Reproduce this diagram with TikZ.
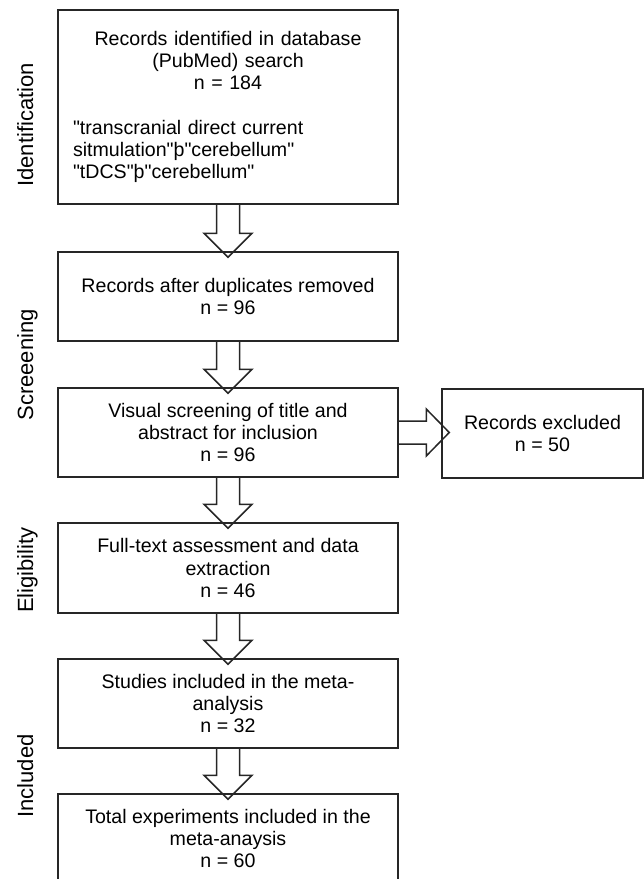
\documentclass[tikz,border=0pt]{standalone}
\usepackage{fontspec}
\setmainfont{Liberation Sans}[Ligatures=TeXOff]
\usepackage{tikz}
\usetikzlibrary{calc}
\tikzset{
    line color/.style={black!85},
    box/.style={draw, line color, line width=1.5pt, minimum width=340pt, minimum height=89pt,
        align=center, inner sep=0pt, text=black, font=\fontsize{19.6}{22.3}\selectfont},
    phase/.style={rotate=90, anchor=base, font=\fontsize{22}{26}\selectfont},
    fat arrow/.style={draw, line color, line width=1.5pt, line join=miter},
}
% block arrow straight down from one box into the next
\newcommand{\fatdown}[2]{%
    \draw[fat arrow] let \p1 = (#1.south), \p2 = (#2.north) in
        (\x1-11.5pt,\y1) -- (\x1-11.5pt,\y2+18pt) -- (\x1-24pt,\y2+18pt) -- (\x1,\y2-6pt)
        -- (\x1+24pt,\y2+18pt) -- (\x1+11.5pt,\y2+18pt) -- (\x1+11.5pt,\y1);
}

\begin{document}
\begin{tikzpicture}[x=1pt,y=-1pt]
    \useasboundingbox (0,0) rectangle (644,879);

    % phase labels
    \node[phase] (lident) at (33,125) {Identification};
    \node[phase] (lscreen) at (33,365) {Screeening};
    \node[phase] (lelig) at (33,570) {Eligibility};
    \node[phase] (lincl) at (33,776) {Included};

    % boxes
    \node[box, minimum height=194pt, text width=310pt, inner xsep=15pt, align=left] (ident) at (228,107)
        {{\centering Records identified in database\\(PubMed) search\\n = 184\par}
         \vspace{22.3pt}
         "transcranial direct current\\
         sitmulation"þ"cerebellum"\\
         "tDCS"þ"cerebellum"};
    \node[box] (dupl) at (228,296.5) {Records after duplicates removed\\n = 96};
    \node[box] (screen) at (228,432.5) {Visual screening of title and\\abstract for inclusion\\n = 96};
    \node[box, minimum width=201pt] (excl) at (542.5,433.5) {Records excluded\\n = 50};
    \node[box, minimum height=90pt] (fulltext) at (228,568) {Full-text assessment and data\\extraction\\n = 46};
    \node[box] (studies) at (228,703.5) {Studies included in the meta-\\analysis\\n = 32};
    \node[box] (total) at (228,838.5) {Total experiments included in the\\meta-anaysis\\n = 60};

    % arrows
    \fatdown{ident}{dupl}
    \fatdown{dupl}{screen}
    \fatdown{screen}{fulltext}
    \fatdown{fulltext}{studies}
    \fatdown{studies}{total}
    \draw[fat arrow] let \p1 = (screen.east), \p2 = (excl.west) in
        (\x1,\y1+11.5pt) -- (\x2-15pt,\y1+11.5pt) -- (\x2-15pt,\y1+23.5pt) -- (\x2+8pt,\y1)
        -- (\x2-15pt,\y1-23.5pt) -- (\x2-15pt,\y1-11.5pt) -- (\x1,\y1-11.5pt);
\end{tikzpicture}
\end{document}
